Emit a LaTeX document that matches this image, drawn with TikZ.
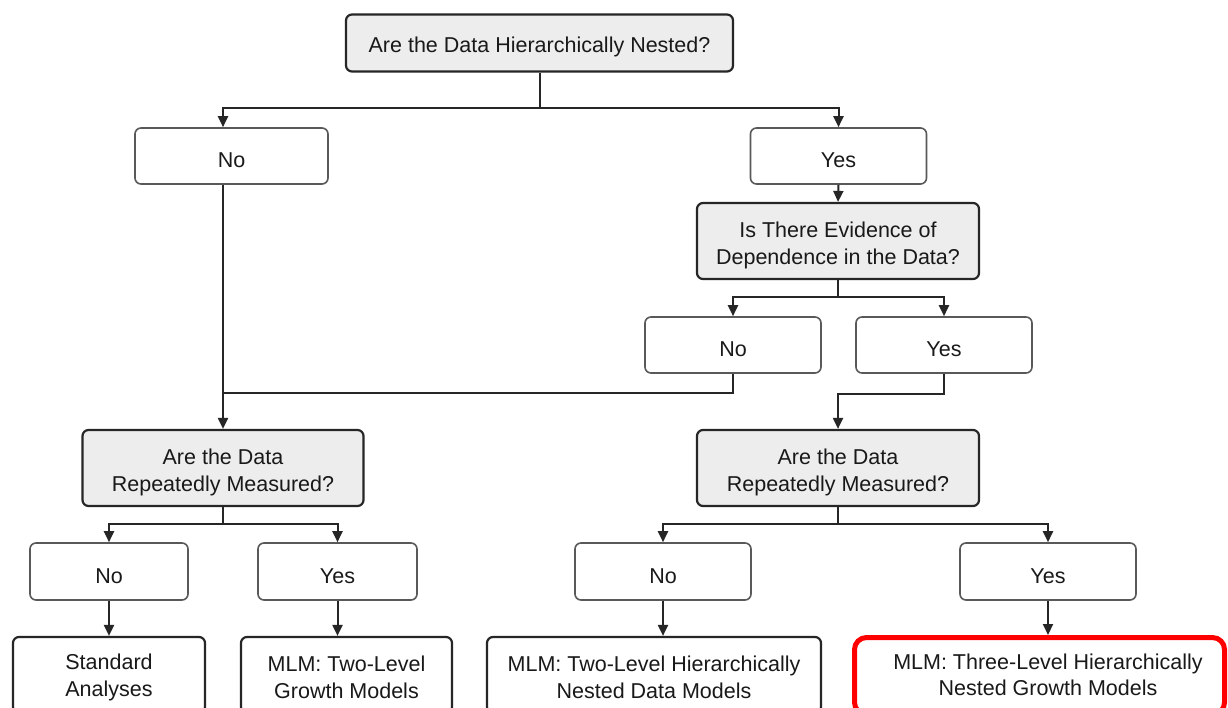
\documentclass[tikz,border=0pt]{standalone}
\usepackage{fontspec}
\setmainfont{Liberation Sans}
\usetikzlibrary{arrows.meta}
\newcommand\fstrut{\rule{0pt}{24pt}}
\newcommand\bstrut{\rule{0pt}{20pt}}
\begin{document}
\begin{tikzpicture}[x=1pt,y=-1pt,
  base/.style={draw, rounded corners=6pt, align=center, inner sep=0pt, font=\fontsize{21.5}{26.5}\selectfont, text=black!90},
  qbox/.style={base, fill=black!7, line width=2.2pt, draw=black!85},
  abox/.style={base, fill=white, line width=1.6pt, draw=black!65},
  rbox/.style={base, fill=white, line width=2.2pt, draw=black!85},
  hbox/.style={base, fill=white, line width=5pt, draw=red, rounded corners=12pt},
  conn/.style={line width=2pt, draw=black!85},
  arr/.style={conn, -{Triangle[length=11pt,width=10pt]}},
]
\useasboundingbox (0,0) rectangle (1228,708);
\clip (0,0) rectangle (1228,708);
\fill[white] (0,0) rectangle (1228,708);

\node[qbox, minimum width=387, minimum height=57] (top) at (539.5,43) {\fstrut Are the Data Hierarchically Nested?};
\node[abox, minimum width=193, minimum height=56] (no1) at (231.5,156) {\fstrut No};
\node[abox, minimum width=176, minimum height=56] (yes1) at (838.5,156) {\fstrut Yes};
\node[qbox, minimum width=282, minimum height=76] (q2) at (838,241) {\fstrut Is There Evidence of\\Dependence in the Data?};
\node[abox, minimum width=176, minimum height=56] (no2) at (733,345) {\fstrut No};
\node[abox, minimum width=176, minimum height=56] (yes2) at (944,345) {\fstrut Yes};
\node[qbox, minimum width=281, minimum height=76] (q3) at (223,468) {\fstrut Are the Data\\Repeatedly Measured?};
\node[qbox, minimum width=282, minimum height=76] (q4) at (838,468) {\fstrut Are the Data\\Repeatedly Measured?};
\node[abox, minimum width=158, minimum height=57] (no3) at (109,571.5) {\fstrut No};
\node[abox, minimum width=159, minimum height=57] (yes3) at (337.5,571.5) {\fstrut Yes};
\node[abox, minimum width=176, minimum height=57] (no4) at (663,571.5) {\fstrut No};
\node[abox, minimum width=176, minimum height=57] (yes4) at (1048,571.5) {\fstrut Yes};
\node[rbox, minimum width=192, minimum height=76] (std) at (109,675) {\bstrut Standard\\Analyses};
\node[rbox, minimum width=211, minimum height=76] (mlm2g) at (346.5,675) {\bstrut MLM: Two-Level\\Growth Models};
\node[rbox, minimum width=334, minimum height=76] (mlm2h) at (654,675) {\bstrut MLM: Two-Level Hierarchically\\Nested Data Models};
\node[hbox, minimum width=370, minimum height=77] (mlm3) at (1039.5,676) {};
\node[base, draw=none] (mlm3t) at (1048,675) {MLM: Three-Level Hierarchically\\Nested Growth Models};

\coordinate (j1) at (539.5,108);
\draw[conn] (top.south) -- (j1);
\draw[arr] (j1) -| (q3.north |- no1.north);
\draw[arr] (j1) -| (yes1.north);
\draw[arr] (yes1.south) -- (q2.north);

\coordinate (j2) at (838,297);
\draw[conn] (q2.south) -- (j2);
\draw[arr] (j2) -| (no2.north);
\draw[arr] (j2) -| (yes2.north);

\draw[arr] (q3.north |- no1.south) -- (q3.north);
\coordinate (m1) at (223,393);
\draw[conn] (no2.south) |- (m1);
\draw[arr] (yes2.south) -- ++(0,20) -| (q4.north);

\coordinate (j3) at (223,524);
\draw[conn] (q3.south) -- (j3);
\draw[arr] (j3) -| (no3.north);
\draw[arr] (j3) -| (yes3.north);

\coordinate (j4) at (838,524);
\draw[conn] (q4.south) -- (j4);
\draw[arr] (j4) -| (no4.north);
\draw[arr] (j4) -| (yes4.north);

\draw[arr] (no3.south) -- (no3.south |- std.north);
\draw[arr] (yes3.south) -- (yes3.south |- mlm2g.north);
\draw[arr] (no4.south) -- (no4.south |- mlm2h.north);
\draw[arr] (yes4.south) -- (yes4.south |- mlm3.north);
\end{tikzpicture}
\end{document}
